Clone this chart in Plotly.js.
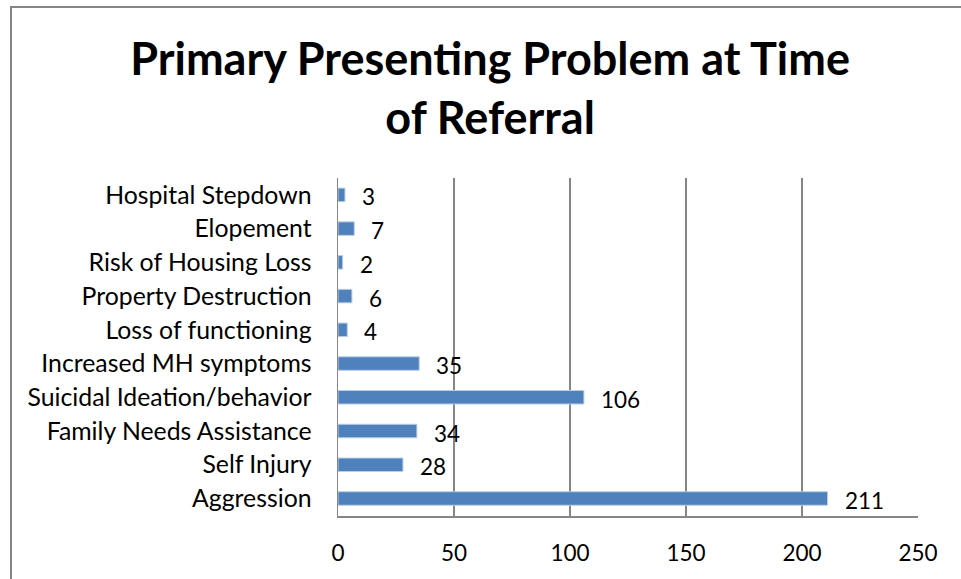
<!DOCTYPE html>
<html><head><meta charset="utf-8">
<script src="https://cdn.plot.ly/plotly-3.0.1.min.js"></script>
<style>html,body{margin:0;padding:0;background:#fff;}#chart{width:961px;height:579px;}</style>
</head><body><div id="chart"></div>
<script>
const categories = ["Aggression","Self Injury","Family Needs Assistance","Suicidal Ideation/behavior","Increased MH symptoms","Loss of functioning","Property Destruction","Risk of Housing Loss","Elopement","Hospital Stepdown"];
const values = [211,28,34,106,35,4,6,2,7,3];
const xTicks = [0,50,100,150,200,250];

const font = "Lato, 'Open Sans', sans-serif";
const annotations = categories.map((c,i)=>({
  x: values[i], y: c, xref:'x', yref:'y', text: String(values[i]),
  showarrow:false, xanchor:'left', xshift:15, yshift:-2,
  font:{family:font, size:22.5, color:'#000'}
}));

const data = [{
  type:'bar', orientation:'h', x:values, y:categories,
  marker:{color:'#4F81BD', line:{color:'#B9CDE5', width:1}},
  hoverinfo:'skip'
}];

const layout = {
  width:961, height:579,
  margin:{l:338, r:43, t:178, b:63},
  paper_bgcolor:'#fff', plot_bgcolor:'#fff',
  bargap:0.6,
  showlegend:false,
  title:{text:'<b>Primary Presenting Problem at Time<br>of Referral</b>',
    font:{family:font, size:45, color:'#000'},
    x:0.51, xref:'container', xanchor:'center', y:0.87, yref:'container', yanchor:'top'},
  xaxis:{range:[0,250], tickvals:xTicks, ticktext:xTicks.map(String),
    showgrid:true, gridcolor:'#868686', gridwidth:1.5,
    showline:true, linecolor:'#868686', linewidth:1.5, mirror:false,
    zeroline:false, ticks:'', ticklabelstandoff:16,
    tickfont:{family:font, size:22.5, color:'#000'}, fixedrange:true},
  yaxis:{type:'category', categoryorder:'array', categoryarray:categories,
    showgrid:false, showline:true, linecolor:'#868686', linewidth:1.5,
    ticks:'', ticklabelstandoff:20,
    tickfont:{family:font, size:24.8, color:'#000'}, fixedrange:true},
  annotations: annotations,
  shapes:[{type:'rect', xref:'paper', yref:'paper', x0:-0.5638, x1:1.2, y0:-0.5, y1:1.506,
    line:{color:'#868686', width:2}, fillcolor:'rgba(0,0,0,0)', layer:'below'}]
};
Plotly.newPlot('chart', data, layout, {displayModeBar:false, staticPlot:true});
</script></body></html>
